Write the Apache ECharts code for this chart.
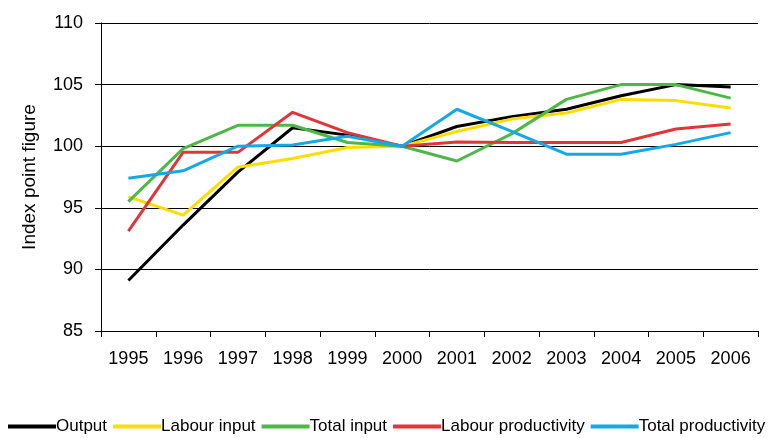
<!DOCTYPE html>
<html>
<head>
<meta charset="utf-8">
<script src="https://cdn.jsdelivr.net/npm/echarts@6/dist/echarts.min.js"></script>
<style>html,body{margin:0;padding:0;background:#fff}#c{width:772px;height:438px}</style>
</head>
<body>
<div id="c"></div>
<script>
var years = ['1995','1996','1997','1998','1999','2000','2001','2002','2003','2004','2005','2006'];
var output = [89.1, 93.6, 97.9, 101.5, 100.9, 100.0, 101.6, 102.4, 103.0, 104.1, 105.0, 104.8];
var labourInput = [95.9, 94.4, 98.3, 99.0, 99.9, 100.0, 101.2, 102.2, 102.7, 103.8, 103.7, 103.1];
var totalInput = [95.5, 99.8, 101.7, 101.7, 100.3, 100.0, 98.8, 101.0, 103.8, 105.0, 105.0, 103.9];
var labourProductivity = [93.1, 99.5, 99.5, 102.75, 101.1, 100.0, 100.35, 100.3, 100.3, 100.3, 101.4, 101.8];
var totalProductivity = [97.4, 98.0, 100.0, 100.1, 100.8, 100.0, 103.0, 101.2, 99.35, 99.35, 100.15, 101.1];
var yTicks = [85, 90, 95, 100, 105, 110];

var names = ['Output','Labour input','Total input','Labour productivity','Total productivity'];
var colors = ['#000000','#FFDD00','#4DB848','#E0363A','#14A8E6'];
var datas = [output, labourInput, totalInput, labourProductivity, totalProductivity];

var chart = echarts.init(document.getElementById('c'));
var font = 'Liberation Sans, Arial, sans-serif';
chart.setOption({
  animation: false,
  textStyle: {fontFamily: font},
  grid: {left: 101, right: 14, top: 23, bottom: 107},
  legend: {
    top: 418, left: 8, width: 900, padding: 0,
    itemWidth: 48, itemHeight: 4, itemGap: 6,
    icon: 'rect',
    textStyle: {fontSize: 17, color: '#000', fontFamily: font, padding: [0,0,0,-5]},
    data: names
  },
  xAxis: {
    type: 'category', data: years, boundaryGap: true,
    axisLine: {lineStyle: {color: '#000', width: 1}},
    axisTick: {show: true, length: 6, inside: false, lineStyle: {color: '#000'}},
    axisLabel: {color: '#000', fontSize: 18, margin: 19, fontFamily: font}
  },
  yAxis: {
    type: 'value', min: yTicks[0], max: yTicks[yTicks.length-1], interval: 5,
    name: 'Index point figure', nameLocation: 'middle', nameGap: 62,
    nameTextStyle: {color: '#000', fontSize: 19, fontFamily: font},
    axisLine: {show: true, lineStyle: {color: '#000', width: 1}},
    axisTick: {show: true, length: 6, lineStyle: {color: '#000'}},
    axisLabel: {color: '#000', fontSize: 18, margin: 18, fontFamily: font},
    splitLine: {show: true, lineStyle: {color: '#000', width: 1}}
  },
  series: names.map(function(n, i){
    return {
      name: n, type: 'line', data: datas[i],
      symbol: 'none', smooth: false,
      lineStyle: {color: colors[i], width: 3},
      itemStyle: {color: colors[i]},
      z: 2 + i
    };
  })
});
</script>
</body>
</html>
